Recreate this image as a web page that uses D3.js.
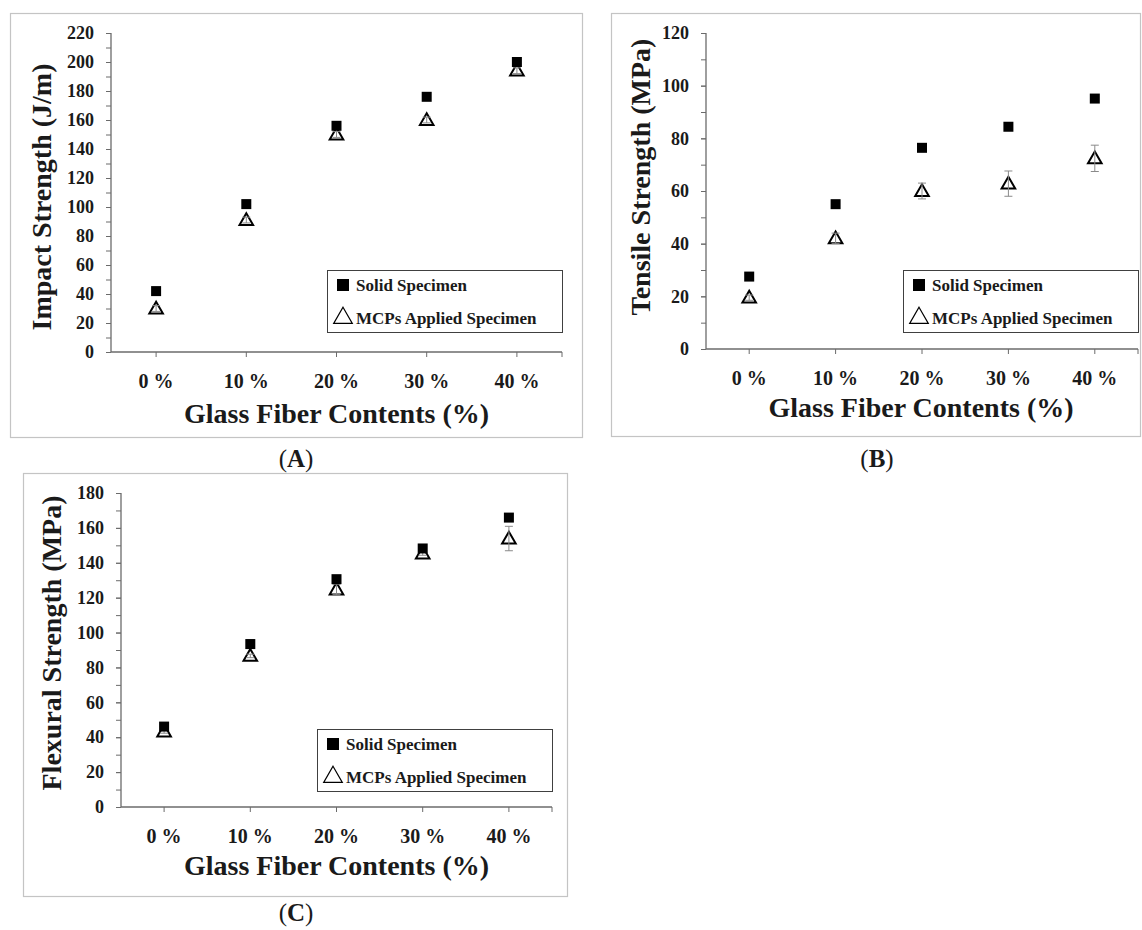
<!DOCTYPE html>
<html>
<head>
<meta charset="utf-8">
<script src="https://cdn.jsdelivr.net/npm/d3@7"></script>
<style>
  html, body { margin: 0; padding: 0; background: #fff; }
  svg text { font-family: "Liberation Serif", "Times New Roman", serif; font-weight: bold; fill: #1a1a1a; }
</style>
</head>
<body>
<div id="chart"></div>
<script>
const categories = ['0 %', '10 %', '20 %', '30 %', '40 %'];

// (A) impact strength, J/m
const impactSolid = [42, 102, 156, 176, 200];
const impactSolidErr = [1, 1, 1, 1, 1];
const impactMcp = [30, 91, 150, 160, 194];
const impactMcpErr = [2, 2, 2, 2, 2];

// (B) tensile strength, MPa
const tensileSolid = [27.5, 55, 76.4, 84.4, 95.1];
const tensileSolidErr = [0.5, 0.5, 0.5, 0.5, 0.5];
const tensileMcp = [19.5, 42, 60, 62.8, 72.4];
const tensileMcpErr = [1, 2, 3, 4.8, 5];

// (C) flexural strength, MPa
const flexSolid = [46.1, 93.4, 130.6, 148.2, 165.9];
const flexSolidErr = [1, 2.5, 1, 1, 2];
const flexMcp = [43.3, 86.6, 124.7, 145.3, 153.9];
const flexMcpErr = [1, 1, 3, 1, 7];

const legendLabels = ['Solid Specimen', 'MCPs Applied Specimen'];

const width = 1142;
const height = 930;

const svg = d3.select('#chart')
  .append('svg')
  .attr('width', width)
  .attr('height', height)
  .attr('viewBox', `0 0 ${width} ${height}`);

function drawPanel(p) {
  // outer frame
  svg.append('rect')
    .attr('x', p.frame[0] + 0.5)
    .attr('y', p.frame[1] + 0.5)
    .attr('width', p.frame[2] - p.frame[0])
    .attr('height', p.frame[3] - p.frame[1])
    .attr('fill', 'none')
    .attr('stroke', '#c4c4c4')
    .attr('stroke-width', 1.2);

  const x = d3.scaleBand().domain(categories).range([p.left, p.right]);
  const y = d3.scaleLinear().domain([0, p.max]).range([p.bottom, p.top]);

  const g = svg.append('g');

  // minor ticks
  g.append('g')
    .attr('transform', `translate(${p.left},0)`)
    .call(d3.axisLeft(y).tickValues(d3.range(0, p.max + 0.01, p.step / 2)).tickSize(5).tickFormat(''))
    .call((a) => a.select('.domain').remove())
    .selectAll('line').attr('stroke', '#6b6b6b');

  const yAxis = g.append('g')
    .attr('transform', `translate(${p.left},0)`)
    .call(d3.axisLeft(y).tickValues(d3.range(0, p.max + 0.01, p.step)).tickSize(5).tickPadding(12));
  yAxis.select('.domain').attr('stroke', '#6b6b6b').attr('stroke-width', 1.3).attr('d', `M0,${p.bottom}V${p.top}`);
  yAxis.selectAll('line').attr('stroke', '#6b6b6b');
  yAxis.selectAll('text').attr('font-size', 18).style('font-family', '"Liberation Serif", serif').style('font-weight', 'bold').attr('fill', '#1a1a1a');

  const xAxis = g.append('g')
    .attr('transform', `translate(0,${p.bottom})`)
    .call(d3.axisBottom(x).tickSize(5).tickPadding(17));
  xAxis.select('.domain').attr('stroke', '#6b6b6b').attr('stroke-width', 1.3).attr('d', `M${p.left},0H${p.right}`);
  xAxis.selectAll('line').attr('stroke', '#6b6b6b');
  xAxis.selectAll('text').attr('font-size', 20).style('font-family', '"Liberation Serif", serif').style('font-weight', 'bold').attr('fill', '#1a1a1a');
  // end tick
  xAxis.append('line').attr('x1', p.right).attr('x2', p.right).attr('y1', 0).attr('y2', 5).attr('stroke', '#6b6b6b');

  // axis titles
  svg.append('text')
    .attr('x', (p.left + p.right) / 2 + p.xTitleDx)
    .attr('y', p.xTitleY)
    .attr('text-anchor', 'middle')
    .attr('font-size', 28)
    .text('Glass Fiber Contents (%)');

  svg.append('text')
    .attr('transform', `translate(${p.yTitleX},${p.yTitleY}) rotate(-90)`)
    .attr('text-anchor', 'middle')
    .attr('font-size', 28)
    .text(p.yTitle);

  const cx = (d, i) => x(categories[i]) + x.bandwidth() / 2;

  const errPath = (d) => {
    const xx = cx(d.v, d.i);
    const y1 = y(d.v + d.e);
    const y0 = y(d.v - d.e);
    return `M${xx},${y0}V${y1}M${xx - 4},${y1}H${xx + 4}M${xx - 4},${y0}H${xx + 4}`;
  };

  // triangles, with their error bars over them
  const tri = d3.symbol(d3.symbolTriangle, 80);
  g.append('g').selectAll('path')
    .data(p.mcp)
    .join('path')
    .attr('d', tri)
    .attr('transform', (d, i) => `translate(${cx(d, i)},${y(d) + 1})`)
    .attr('fill', '#fff')
    .attr('stroke', '#000')
    .attr('stroke-width', 2);

  g.append('g').attr('stroke', '#8a8a8a').attr('stroke-width', 1).attr('fill', 'none')
    .selectAll('path')
    .data(p.mcp.map((v, i) => ({ i, v, e: p.mcpErr[i] })))
    .join('path')
    .attr('d', errPath);

  g.append('g').attr('stroke', '#8a8a8a').attr('stroke-width', 1).attr('fill', 'none')
    .selectAll('path')
    .data(p.solid.map((v, i) => ({ i, v, e: p.solidErr[i] })))
    .join('path')
    .attr('d', errPath);

  // solid squares on top
  g.append('g').selectAll('rect')
    .data(p.solid)
    .join('rect')
    .attr('x', (d, i) => cx(d, i) - 5)
    .attr('y', (d) => y(d) - 5)
    .attr('width', 10)
    .attr('height', 10)
    .attr('fill', '#000');

  // legend
  const lw = 235;
  const lh = 62;
  const lx = p.right - lw;
  const ly = p.bottom - p.legendGap - lh;
  const lg = svg.append('g').attr('transform', `translate(${lx},${ly})`);
  lg.append('rect')
    .attr('x', 0.5).attr('y', 0.5)
    .attr('width', lw).attr('height', lh)
    .attr('fill', '#fff')
    .attr('stroke', '#404040')
    .attr('stroke-width', 1);
  lg.append('rect').attr('x', 10).attr('y', 9).attr('width', 12).attr('height', 12).attr('fill', '#000');
  lg.append('path')
    .attr('d', d3.symbol(d3.symbolTriangle, 150))
    .attr('transform', 'translate(16,48)')
    .attr('fill', '#fff')
    .attr('stroke', '#000')
    .attr('stroke-width', 1.2);
  lg.selectAll('text.leg')
    .data(legendLabels)
    .join('text')
    .attr('class', 'leg')
    .attr('x', 29)
    .attr('y', (d, i) => 21 + i * 33)
    .attr('font-size', 17)
    .text((d) => d);

  // caption
  const cap = svg.append('text')
    .attr('x', p.capX)
    .attr('y', p.capY)
    .attr('text-anchor', 'middle')
    .attr('font-size', 25)
    .style('font-weight', 'normal');
  cap.append('tspan').text('(');
  cap.append('tspan').style('font-weight', 'bold').text(p.caption);
  cap.append('tspan').text(')');
}

drawPanel({
  frame: [10, 13, 582, 437],
  left: 111, right: 562, top: 33, bottom: 352,
  max: 220, step: 20,
  solid: impactSolid, solidErr: impactSolidErr,
  mcp: impactMcp, mcpErr: impactMcpErr,
  yTitle: 'Impact Strength (J/m)', yTitleX: 51, yTitleY: 197,
  xTitleY: 423, xTitleDx: 0,
  legendGap: 20,
  caption: 'A', capX: 296, capY: 467
});

drawPanel({
  frame: [611, 13, 1140, 436],
  left: 706, right: 1138, top: 33, bottom: 349,
  max: 120, step: 20,
  solid: tensileSolid, solidErr: tensileSolidErr,
  mcp: tensileMcp, mcpErr: tensileMcpErr,
  yTitle: 'Tensile Strength (MPa)', yTitleX: 650, yTitleY: 177,
  xTitleY: 417, xTitleDx: -1,
  legendGap: 17,
  caption: 'B', capX: 877, capY: 467
});

drawPanel({
  frame: [23, 473, 567, 896],
  left: 121, right: 552, top: 493, bottom: 807,
  max: 180, step: 20,
  solid: flexSolid, solidErr: flexSolidErr,
  mcp: flexMcp, mcpErr: flexMcpErr,
  yTitle: 'Flexural Strength (MPa)', yTitleX: 61, yTitleY: 643,
  xTitleY: 875, xTitleDx: 0,
  legendGap: 16,
  caption: 'C', capX: 296, capY: 921
});
</script>
</body>
</html>
